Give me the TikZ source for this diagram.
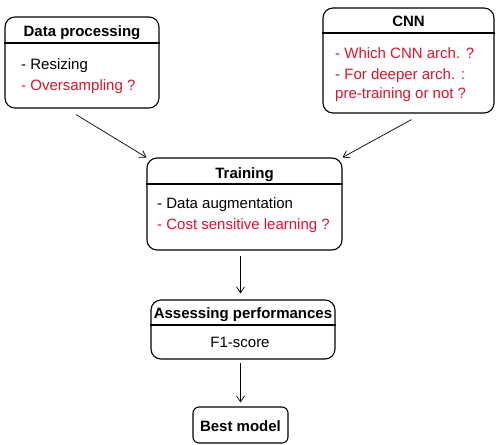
\documentclass[tikz,border=0pt]{standalone}
\usepackage{fontspec}
\setmainfont{Liberation Sans}
\usetikzlibrary{arrows.meta}
\definecolor{qred}{RGB}{220,20,45}
\begin{document}
\begin{tikzpicture}[x=1pt,y=-1pt,
  every node/.style={font=\fontsize{15}{18}\selectfont},
  box/.style={draw, line width=1.1pt, rounded corners=10pt, inner sep=0pt},
  sep/.style={line width=1.1pt},
  title/.style={font=\fontsize{15}{18}\selectfont\bfseries, anchor=base, inner sep=0pt},
  item/.style={anchor=base west, inner sep=0pt},
  ask/.style={item, text=qred},
  arr/.style={-{Straight Barb[length=6pt,width=8pt]}, line width=0.7pt}]
\useasboundingbox (0,0) rectangle (497,444);

% Data processing
\node[box, minimum width=154pt, minimum height=91pt] (dp) at (82,62.5) {};
\draw[sep] (dp.west |- 0,43) -- (dp.east |- 0,43);
\node[title] (dpt) at (82,36.5) {Data processing};
\node[item] (dp1) at (21,70) {- Resizing};
\node[ask] (dp2) at (21,90.5) {- Oversampling ?};

% CNN
\node[box, minimum width=171pt, minimum height=105pt] (cnn) at (408.5,60.5) {};
\draw[sep] (cnn.west |- 0,33) -- (cnn.east |- 0,33);
\node[title] (cnnt) at (408.5,26.5) {CNN};
\node[ask] (cnn1) at (335,58) {- Which CNN arch. ?};
\node[ask] (cnn2) at (335,79) {- For deeper arch. :};
\node[ask] (cnn3) at (335,98) {pre-training or not ?};

% Training
\node[box, minimum width=195pt, minimum height=92pt] (tr) at (244.5,204) {};
\draw[sep] (tr.west |- 0,184) -- (tr.east |- 0,184);
\node[title] (trt) at (244.5,178) {Training};
\node[item] (tr1) at (157,208.5) {- Data augmentation};
\node[ask] (tr2) at (157,229) {- Cost sensitive learning ?};

% Assessing performances
\node[box, minimum width=184pt, minimum height=59pt] (as) at (243,329.5) {};
\draw[sep] (as.west |- 0,325) -- (as.east |- 0,325);
\node[title] (ast) at (243,318) {Assessing performances};
\node[anchor=base, inner sep=0pt] (as1) at (240,347) {F1-score};

% Best model
\node[box, rounded corners=6pt, minimum width=95pt, minimum height=36pt] (bm) at (240.5,425) {};
\node[title] (bmt) at (240.5,431.5) {Best model};

% Connectors
\draw[arr] ([xshift=-6pt,yshift=-6pt]dp.south) -- (tr.north west);
\draw[arr] ([xshift=3pt,yshift=-6pt]cnn.south) -- (tr.north east);
\draw[arr, shorten <=5pt, shorten >=6pt] (tr.south -| bm.north) -- (as.north -| bm.north);
\draw[arr, shorten <=3pt, shorten >=4pt] (as.south -| bm.north) -- (bm.north);
\end{tikzpicture}
\end{document}
